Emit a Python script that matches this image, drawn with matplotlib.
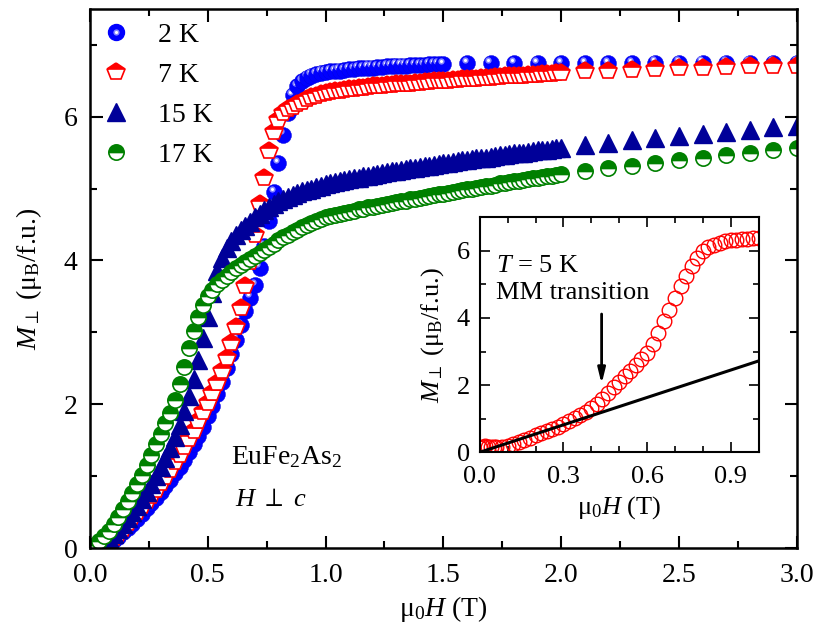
import matplotlib
matplotlib.use("Agg")
import matplotlib.pyplot as plt
from matplotlib.lines import Line2D
from matplotlib.legend_handler import HandlerTuple
from matplotlib.transforms import offset_copy

plt.rcParams['font.family'] = ['Liberation Serif', 'DejaVu Serif']
plt.rcParams['mathtext.fontset'] = 'custom'
plt.rcParams['mathtext.rm'] = 'Liberation Serif'
plt.rcParams['mathtext.it'] = 'Liberation Serif:italic'

# field grid of the measurements (T)
field_fine = [0.02, 0.04, 0.06, 0.08, 0.10, 0.12, 0.14, 0.16, 0.18, 0.20,
              0.22, 0.24, 0.26, 0.28, 0.30, 0.32, 0.34, 0.36, 0.38, 0.40,
              0.42, 0.44, 0.46, 0.48, 0.50, 0.52, 0.54, 0.56, 0.58, 0.60,
              0.62, 0.64, 0.66, 0.68, 0.70, 0.72, 0.74, 0.76, 0.78, 0.80,
              0.82, 0.84, 0.86, 0.88, 0.90, 0.92, 0.94, 0.96, 0.98, 1.00,
              1.02, 1.04, 1.06, 1.08, 1.10, 1.12, 1.14, 1.16, 1.18, 1.20,
              1.22, 1.24, 1.26, 1.28, 1.30, 1.32, 1.34, 1.36, 1.38, 1.40,
              1.42, 1.44, 1.46, 1.48, 1.50, 1.52, 1.54, 1.56, 1.58, 1.60,
              1.62, 1.64, 1.66, 1.68, 1.70, 1.72, 1.74, 1.76, 1.78, 1.80,
              1.82, 1.84, 1.86, 1.88, 1.90, 1.92, 1.94, 1.96, 1.98, 2.00]
field_coarse_2K = [1.6, 1.7, 1.8, 1.9, 2.0, 2.1, 2.2, 2.3, 2.4, 2.5,
                   2.6, 2.7, 2.8, 2.9, 3.0]
field_coarse = [2.1, 2.2, 2.3, 2.4, 2.5, 2.6, 2.7, 2.8, 2.9, 3.0]

H_2K = field_fine[2:75] + field_coarse_2K
M_2K = [0.01, 0.06, 0.11, 0.16, 0.22, 0.28, 0.34, 0.41, 0.48, 0.55,
        0.62, 0.70, 0.78, 0.86, 0.95, 1.04, 1.13, 1.23, 1.33, 1.44,
        1.56, 1.69, 1.83, 1.98, 2.14, 2.31, 2.50, 2.70, 2.90, 3.10,
        3.30, 3.48, 3.66, 3.90, 4.20, 4.55, 4.95, 5.35, 5.75, 6.05,
        6.30, 6.42, 6.49, 6.54, 6.57, 6.59, 6.61, 6.62,
        6.63, 6.63, 6.64, 6.65, 6.66, 6.66, 6.67, 6.67, 6.68, 6.68,
        6.69, 6.69, 6.70, 6.70, 6.71, 6.71, 6.71, 6.72, 6.72, 6.72,
        6.72, 6.73, 6.73, 6.73, 6.73,
        6.74, 6.74, 6.74, 6.74, 6.74, 6.74, 6.74, 6.74, 6.75, 6.75,
        6.75, 6.75, 6.75, 6.75, 6.75]

H_7K = field_fine[2:] + field_coarse
M_7K = [0.02, 0.08, 0.14, 0.20, 0.27, 0.35, 0.43, 0.50, 0.58, 0.65,
        0.73, 0.81, 0.90, 0.99, 1.09, 1.19, 1.29, 1.40, 1.51, 1.63,
        1.76, 1.89, 2.02, 2.15, 2.30, 2.46, 2.64, 2.85, 3.08, 3.34,
        3.65, 3.98, 4.35, 4.78, 5.15, 5.52, 5.79, 5.96, 6.05, 6.10,
        6.14, 6.18, 6.21, 6.24, 6.27, 6.29, 6.31, 6.33,
        6.34, 6.35, 6.36, 6.37, 6.38, 6.39, 6.40, 6.40, 6.41, 6.42,
        6.42, 6.43, 6.44, 6.44, 6.45, 6.45, 6.46, 6.46, 6.47, 6.47,
        6.48, 6.48, 6.49, 6.49, 6.50, 6.50, 6.51, 6.51, 6.52, 6.52,
        6.53, 6.53, 6.54, 6.54, 6.54, 6.55, 6.55, 6.56, 6.56, 6.56,
        6.57, 6.57, 6.58, 6.58, 6.58, 6.59, 6.59, 6.59, 6.60, 6.60,
        6.63, 6.64, 6.65, 6.66, 6.67, 6.68, 6.69, 6.70, 6.70, 6.71]

H_15K = field_fine[1:] + field_coarse
M_15K = [0.03, 0.08, 0.14, 0.20, 0.27, 0.34, 0.42, 0.50, 0.59, 0.68,
         0.78, 0.89, 1.00, 1.12, 1.25, 1.39, 1.54, 1.71, 1.90, 2.11,
         2.35, 2.62, 2.92, 3.22, 3.55, 3.85, 4.04, 4.17, 4.27, 4.35,
         4.42, 4.48, 4.54, 4.60, 4.65, 4.70, 4.74, 4.78, 4.82, 4.85,
         4.88, 4.91, 4.94, 4.96, 4.98, 5.00, 5.02, 5.04, 5.06,
         5.08, 5.09, 5.10, 5.12, 5.13, 5.14, 5.15, 5.17, 5.18, 5.19,
         5.20, 5.21, 5.23, 5.24, 5.25, 5.26, 5.27, 5.28, 5.29, 5.30,
         5.31, 5.32, 5.33, 5.34, 5.35, 5.36, 5.37, 5.38, 5.39, 5.40,
         5.41, 5.42, 5.42, 5.43, 5.44, 5.45, 5.46, 5.47, 5.48, 5.49,
         5.49, 5.50, 5.51, 5.52, 5.53, 5.54, 5.54, 5.55, 5.56, 5.57,
         5.61, 5.64, 5.67, 5.70, 5.73, 5.76, 5.79, 5.82, 5.85, 5.87]

H_17K = field_fine + field_coarse
M_17K = [0.04, 0.10, 0.17, 0.24, 0.33, 0.43, 0.54, 0.65, 0.77, 0.89,
         1.02, 1.16, 1.30, 1.44, 1.58, 1.74, 1.88, 2.06, 2.28, 2.52,
         2.78, 3.02, 3.22, 3.38, 3.50, 3.59, 3.67, 3.73, 3.79, 3.84,
         3.89, 3.94, 3.98, 4.02, 4.06, 4.10, 4.14, 4.19, 4.23, 4.28,
         4.32, 4.36, 4.40, 4.43, 4.46, 4.49, 4.52, 4.55, 4.58, 4.60,
         4.62, 4.63, 4.65, 4.66, 4.68, 4.69, 4.71, 4.72, 4.74, 4.75,
         4.76, 4.77, 4.79, 4.80, 4.81, 4.82, 4.83, 4.85, 4.86, 4.87,
         4.88, 4.89, 4.91, 4.92, 4.93, 4.94, 4.95, 4.96, 4.98, 4.99,
         5.00, 5.01, 5.02, 5.03, 5.04, 5.05, 5.07, 5.08, 5.09, 5.10,
         5.11, 5.12, 5.13, 5.14, 5.15, 5.16, 5.17, 5.18, 5.19, 5.20,
         5.24, 5.28, 5.32, 5.36, 5.40, 5.43, 5.47, 5.50, 5.53, 5.57]

# inset: T = 5 K
H_5K = [0.00, 0.01, 0.02, 0.03, 0.04, 0.05, 0.06, 0.08, 0.10, 0.12,
        0.14, 0.16, 0.18, 0.20, 0.22, 0.24, 0.26, 0.28, 0.30, 0.32,
        0.34, 0.36, 0.38, 0.40, 0.42, 0.44, 0.46, 0.48, 0.50, 0.52,
        0.54, 0.56, 0.58, 0.60, 0.62, 0.64, 0.66, 0.68, 0.70, 0.72,
        0.74, 0.76, 0.78, 0.80, 0.82, 0.84, 0.86, 0.88, 0.90, 0.92,
        0.94, 0.96, 0.98, 1.00]
M_5K = [0.12, 0.16, 0.18, 0.17, 0.16, 0.15, 0.15, 0.16, 0.20, 0.25,
        0.31, 0.37, 0.43, 0.50, 0.56, 0.62, 0.69, 0.76, 0.84, 0.92,
        1.01, 1.10, 1.20, 1.32, 1.45, 1.60, 1.77, 1.94, 2.10, 2.26,
        2.43, 2.60, 2.77, 2.96, 3.22, 3.55, 3.90, 4.25, 4.60, 4.95,
        5.25, 5.55, 5.80, 5.98, 6.10, 6.18, 6.24, 6.28, 6.31, 6.33,
        6.35, 6.36, 6.37, 6.38]
fit_H = [0.0, 1.0]
fit_M = [0.0, 2.72]

fig = plt.figure(figsize=(8.3, 6.37), dpi=100)
ax = fig.add_axes([0.1084, 0.1397, 0.8516, 0.8465])

sphere_blue = '#0000ff'
red = '#ff0000'
navy = '#000099'
green = '#008000'

# 2 K shaded spheres: blue ball + soft highlight up-left
hl_tr = offset_copy(ax.transData, fig=fig, x=-1.6, y=2.4, units='points')
for h, m in zip(H_2K, M_2K):
    ax.plot(h, m, 'o', ms=11.5, mfc=sphere_blue, mec='#0000dd', mew=0.3)
    ax.plot(h, m, 'o', ms=4.5, mfc='#8888ff', mec='none', transform=hl_tr)
    ax.plot(h, m, 'o', ms=2.2, mfc='#ffffff', mec='none', transform=hl_tr)

ax.plot(H_7K, M_7K, 'p', ls='none', ms=13, mfc=red, mfcalt='white',
        mec=red, mew=1.2, fillstyle='top')
ax.plot(H_15K, M_15K, '^', ls='none', ms=12.5, color=navy, mec=navy)
ax.plot(H_17K, M_17K, 'o', ls='none', ms=11, mfc=green, mfcalt='white',
        mec=green, mew=1.2, fillstyle='top')

ax.set_xlim(0, 3.0)
ax.set_ylim(0, 7.5)
ax.set_xticks([0, 0.5, 1.0, 1.5, 2.0, 2.5, 3.0])
ax.set_xticks([0.25, 0.75, 1.25, 1.75, 2.25, 2.75], minor=True)
ax.set_yticks([0, 2, 4, 6])
ax.set_yticks([1, 3, 5, 7], minor=True)
ax.set_xticklabels(['0.0', '0.5', '1.0', '1.5', '2.0', '2.5', '3.0'])
ax.tick_params(which='both', direction='in', top=True, right=True,
               width=1.5, labelsize=20)
ax.tick_params(which='major', length=9)
ax.tick_params(axis='x', which='major', pad=11)
ax.tick_params(axis='y', which='major', pad=9)
ax.tick_params(which='minor', length=5)
for s in ax.spines.values():
    s.set_linewidth(1.8)

ax.set_xlabel('μ$_0$$H$ (T)', fontsize=20, labelpad=4)
ax.set_ylabel(r'$M_\perp$ (μ$_\mathrm{B}$/f.u.)', fontsize=20, labelpad=14)

ax.text(0.60, 1.27, r'EuFe$_2$As$_2$', fontsize=20, va='center')
ax.text(0.615, 0.67, r'$H$ $\perp$ $c$', fontsize=19, va='center')

# legend
h2 = (Line2D([], [], ls='none', marker='o', ms=11.5, mfc=sphere_blue, mec=sphere_blue),
      Line2D([], [], ls='none', marker='o', ms=4.5, mfc='#8888ff', mec='none'),
      Line2D([], [], ls='none', marker='o', ms=2.2, mfc='white', mec='none'))
h7 = Line2D([], [], ls='none', marker='p', ms=13, mfc=red, mfcalt='white',
            mec=red, mew=1.2, fillstyle='top')
h15 = Line2D([], [], ls='none', marker='^', ms=12.5, color=navy)
h17 = Line2D([], [], ls='none', marker='o', ms=11, mfc=green, mfcalt='white',
             mec=green, mew=1.2, fillstyle='top')
ax.legend([h2, h7, h15, h17], ['2 K', '7 K', '15 K', '17 K'],
          handler_map={tuple: HandlerTuple(ndivide=1)},
          loc='upper left', bbox_to_anchor=(-0.012, 1.008), frameon=False,
          fontsize=20, handlelength=1.2, handletextpad=0.9,
          labelspacing=0.52, borderaxespad=0.25)

# inset
axin = fig.add_axes([0.578, 0.290, 0.336, 0.369])
axin.plot(H_5K, M_5K, 'o', ls='none', ms=10.5, mfc='none', mec=red, mew=1.0)
axin.plot(fit_H, fit_M, '-', color='black', lw=2.2)
axin.annotate('', xy=(0.437, 1.95), xytext=(0.437, 4.2),
              arrowprops=dict(arrowstyle='-|>,head_length=0.9,head_width=0.22',
                              color='black', lw=2))
axin.set_xlim(0, 1.0)
axin.set_ylim(0, 7)
axin.set_xticks([0, 0.3, 0.6, 0.9])
axin.set_xticks([0.1, 0.2, 0.4, 0.5, 0.7, 0.8, 1.0], minor=True)
axin.set_xticklabels(['0.0', '0.3', '0.6', '0.9'])
axin.set_yticks([0, 2, 4, 6])
axin.set_yticks([1, 3, 5, 7], minor=True)
axin.tick_params(which='both', direction='in', top=True, right=True,
                 width=1.2, labelsize=19)
axin.tick_params(which='major', length=7)
axin.tick_params(axis='x', which='major', pad=10)
axin.tick_params(axis='y', which='major', pad=7)
axin.tick_params(which='minor', length=4)
for s in axin.spines.values():
    s.set_linewidth(1.5)
axin.set_xlabel('μ$_0$$H$ (T)', fontsize=19, labelpad=4)
axin.set_ylabel(r'$M_\perp$ (μ$_\mathrm{B}$/f.u.)', fontsize=19, labelpad=8)
axin.text(0.06, 5.55, r'$T$ = 5 K', fontsize=19, va='center')
axin.text(0.06, 4.75, 'MM transition', fontsize=19, va='center')

fig.savefig('out.png', dpi=100)
